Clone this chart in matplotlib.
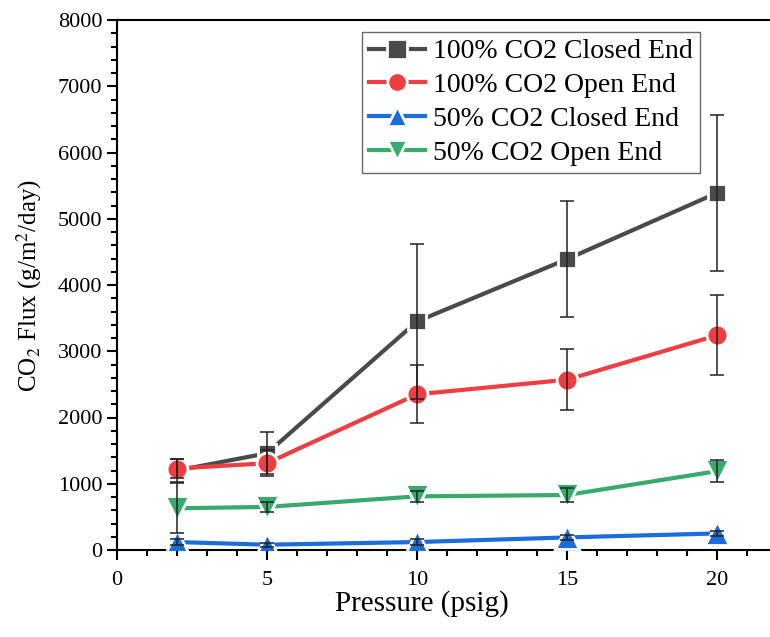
import numpy as np
import matplotlib
matplotlib.use('Agg')
import matplotlib.pyplot as plt
from matplotlib.ticker import MultipleLocator

plt.rcParams['font.family'] = ['Liberation Serif', 'DejaVu Serif']
plt.rcParams['mathtext.fontset'] = 'stix'

pressure = [2, 5, 10, 15, 20]

closed_100 = [1200, 1460, 3450, 4390, 5390]
closed_100_err = [170, 320, 1170, 880, 1180]
open_100 = [1230, 1310, 2350, 2570, 3240]
open_100_err = [150, 200, 440, 460, 605]
closed_50 = [120, 80, 120, 190, 250]
closed_50_err = [50, 30, 40, 40, 40]
open_50 = [630, 650, 810, 830, 1190]
open_50_err = [380, 70, 80, 100, 165]

labels = ['100% CO2 Closed End', '100% CO2 Open End',
          '50% CO2 Closed End', '50% CO2 Open End']
colors = ['#4a4a4a', '#ef3e42', '#1a6ddb', '#36ab6a']
markers = ['s', 'o', '^', 'v']
msizes = [13, 15, 17, 17]

series = [(closed_100, closed_100_err), (open_100, open_100_err),
          (closed_50, closed_50_err), (open_50, open_50_err)]

fig = plt.figure(figsize=(7.7, 6.37), dpi=100)
ax = fig.add_axes([117 / 770, 1 - 550 / 637, 1 - 117 / 770, (550 - 20) / 637])

for i, (vals, errs) in enumerate(series):
    ax.plot(pressure, vals, color=colors[i], marker=markers[i], ms=msizes[i],
            lw=3, mec='white', mew=2, label=labels[i], zorder=3 + i)
    ax.errorbar(pressure, vals, yerr=errs, fmt='none', ecolor='#222222',
                elinewidth=1.1, capsize=5, capthick=1.1, zorder=10)

ax.set_xlim(0, (770 - 117) / 30)
ax.set_ylim(0, 8000)
ax.xaxis.set_major_locator(MultipleLocator(5))
ax.xaxis.set_minor_locator(MultipleLocator(1))
ax.yaxis.set_major_locator(MultipleLocator(1000))
ax.yaxis.set_minor_locator(MultipleLocator(200))
ax.tick_params(which='major', direction='out', length=7, width=1.5, labelsize=16)
ax.tick_params(axis='x', which='major', pad=8)
ax.tick_params(which='minor', direction='out', length=4, width=1.5)
ax.spines['right'].set_visible(False)
for s in ['left', 'bottom', 'top']:
    ax.spines[s].set_linewidth(1.5)

ax.set_xlabel('Pressure (psig)', fontsize=21)
ax.xaxis.set_label_coords((422 - 117) / 653, -40 / 530)
ax.set_ylabel(r'CO$_2$ Flux (g/m$^2$/day)', fontsize=18, labelpad=10)

leg = ax.legend(loc='upper left', bbox_to_anchor=(362 / 770, 1 - 32 / 637),
                bbox_transform=fig.transFigure, fontsize=20, frameon=True,
                fancybox=False, edgecolor='#444444', handlelength=2.0,
                handletextpad=0.3, labelspacing=0.3, borderpad=0.25,
                borderaxespad=0)
leg.get_frame().set_linewidth(1.0)
for h in leg.legend_handles:
    h.set_markeredgewidth(2)
    h.set_markersize(14)

fig.savefig('out.png', dpi=100)
